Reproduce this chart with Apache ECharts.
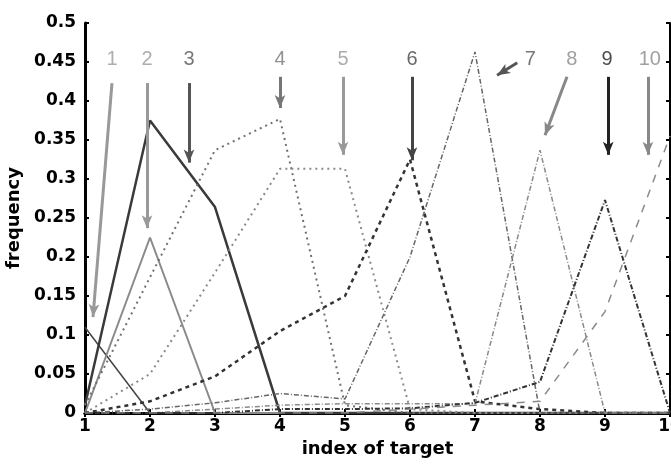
<!DOCTYPE html>
<html>
<head>
<meta charset="utf-8">
<script src="https://cdn.jsdelivr.net/npm/echarts@6/dist/echarts.min.js"></script>
<style>html,body{margin:0;padding:0;background:#fff;}#c{width:671px;height:464px;}</style>
</head>
<body>
<div id="c"></div>
<script>
// x positions (index of target)
const xIdx = [1, 2, 3, 4, 5, 6, 7, 8, 9, 10];
// frequency for each target series
const s1  = [0.11, 0, 0, 0, 0, 0, 0, 0, 0, 0];
const s2  = [0, 0.225, 0, 0, 0, 0, 0, 0, 0, 0];
const s3  = [0.01, 0.375, 0.264, 0, 0, 0, 0, 0, 0, 0];
const s4  = [0.01, 0.174, 0.337, 0.377, 0.01, 0, 0, 0, 0, 0];
const s5  = [0, 0.05, 0.18, 0.313, 0.313, 0.005, 0, 0, 0, 0];
const s6  = [0, 0.015, 0.047, 0.105, 0.15, 0.325, 0.015, 0.005, 0, 0];
const s7  = [0, 0.005, 0.013, 0.025, 0.018, 0.2, 0.463, 0, 0, 0];
const s8  = [0, 0, 0.005, 0.01, 0.012, 0.012, 0.012, 0.337, 0, 0];
const s9  = [0, 0, 0, 0.005, 0.005, 0.006, 0.013, 0.04, 0.273, 0];
const s10 = [0, 0, 0, 0, 0, 0.005, 0.01, 0.015, 0.13, 0.355];
// y tick labels
const yTicks = ['0', '0.05', '0.1', '0.15', '0.2', '0.25', '0.3', '0.35', '0.4', '0.45', '0.5'];
// annotation labels and arrows (data coordinates)
const annTexts = ['1', '2', '3', '4', '5', '6', '7', '8', '9', '10'];
const annLabelX = [1.415, 1.954, 2.6, 4.0, 4.97, 6.03, 7.85, 8.49, 9.03, 9.69];
const annLabelY = [0.453, 0.453, 0.453, 0.453, 0.453, 0.453, 0.453, 0.453, 0.453, 0.453];
const arrowFrom = [[1.415,0.423],[1.954,0.423],[2.6,0.423],[4.0,0.431],[4.97,0.431],[6.03,0.431],[7.65,0.449],[8.415,0.431],[9.05,0.431],[9.66,0.431]];
const arrowTo   = [[1.123,0.123],[1.954,0.237],[2.6,0.321],[4.0,0.391],[4.97,0.331],[6.03,0.324],[7.34,0.433],[8.077,0.356],[9.05,0.331],[9.66,0.331]];

const seriesData = [s1, s2, s3, s4, s5, s6, s7, s8, s9, s10];
const styles = [
  {color:'#444', width:1.5, type:'solid'},
  {color:'#8a8a8a', width:2, type:'solid'},
  {color:'#3a3a3a', width:2.5, type:'solid'},
  {color:'#707070', width:2, type:[2,4]},
  {color:'#8a8a8a', width:2, type:[2,4]},
  {color:'#333', width:2.5, type:[4,4]},
  {color:'#666', width:1.5, type:[5,2,1,2]},
  {color:'#8a8a8a', width:1.5, type:[5,2,1,2]},
  {color:'#333', width:2, type:[5,2,1,2]},
  {color:'#8a8a8a', width:1.5, type:[8,8]}
];
const annColors = ['#999','#999','#555','#777','#999','#444','#555','#888','#222','#888'];

const font = '"DejaVu Sans", sans-serif';
const annFont = '"Liberation Sans", Arial, sans-serif';
const series = seriesData.map((d, i) => ({
  type: 'line',
  data: xIdx.map((x, k) => [x, d[k]]),
  showSymbol: false,
  symbol: 'none',
  lineStyle: styles[i],
  silent: true,
  z: 2
}));

series.push({
  type: 'line',
  data: [],
  silent: true,
  markLine: {
    silent: true,
    symbol: ['none', 'arrow'],
    symbolSize: [8, 13],
    label: {show: false},
    data: arrowFrom.map((p, i) => [
      {coord: p, lineStyle: {color: annColors[i], width: 3, type: 'solid'}, itemStyle:{color: annColors[i]}},
      {coord: arrowTo[i]}
    ])
  }
});

series.push({
  type: 'scatter',
  symbolSize: 0,
  silent: true,
  data: annTexts.map((t, i) => ({
    value: [annLabelX[i], annLabelY[i]],
    label: {show: true, formatter: t, position: 'inside', color: annColors[i], fontSize: 20, fontFamily: annFont}
  }))
});

const chart = echarts.init(document.getElementById('c'), null, {renderer: 'canvas'});
chart.setOption({
  animation: false,
  backgroundColor: '#fff',
  grid: {left: 85, right: 1, top: 23, bottom: 51, containLabel: false, outerBoundsMode: 'none'},
  xAxis: [{
    type: 'value', min: 1, max: 10, interval: 1,
    name: 'index of target', nameLocation: 'middle', nameGap: 27,
    nameTextStyle: {fontSize: 18, fontWeight: 'bold', color: '#000', fontFamily: font},
    axisLine: {lineStyle: {color: '#000', width: 3}},
    axisTick: {inside: true, length: 4, lineStyle: {color: '#000', width: 2}},
    axisLabel: {fontSize: 17, fontWeight: 'bold', color: '#000', fontFamily: font, margin: 5, hideOverlap: false},
    splitLine: {show: false}
  }, {
    type: 'value', min: 1, max: 10, interval: 1, position: 'top',
    axisLine: {lineStyle: {color: '#000', width: 3}},
    axisTick: {inside: true, length: 4, lineStyle: {color: '#000', width: 2}},
    axisLabel: {show: false}, splitLine: {show: false}
  }],
  yAxis: [{
    type: 'value', min: 0, max: 0.5, interval: 0.05,
    name: 'frequency', nameLocation: 'middle', nameGap: 59,
    nameTextStyle: {fontSize: 18, fontWeight: 'bold', color: '#000', fontFamily: font},
    axisLine: {lineStyle: {color: '#000', width: 3}},
    axisTick: {inside: true, length: 4, lineStyle: {color: '#000', width: 2}},
    axisLabel: {fontSize: 17, fontWeight: 'bold', color: '#000', fontFamily: font, margin: 9,
      formatter: (v) => yTicks[Math.round(v / 0.05)]},
    splitLine: {show: false}
  }, {
    type: 'value', min: 0, max: 0.5, interval: 0.05, position: 'right',
    axisLine: {lineStyle: {color: '#000', width: 2}},
    axisTick: {inside: true, length: 4, lineStyle: {color: '#000', width: 2}},
    axisLabel: {show: false}, splitLine: {show: false}
  }],
  series: series
});
</script>
</body>
</html>
